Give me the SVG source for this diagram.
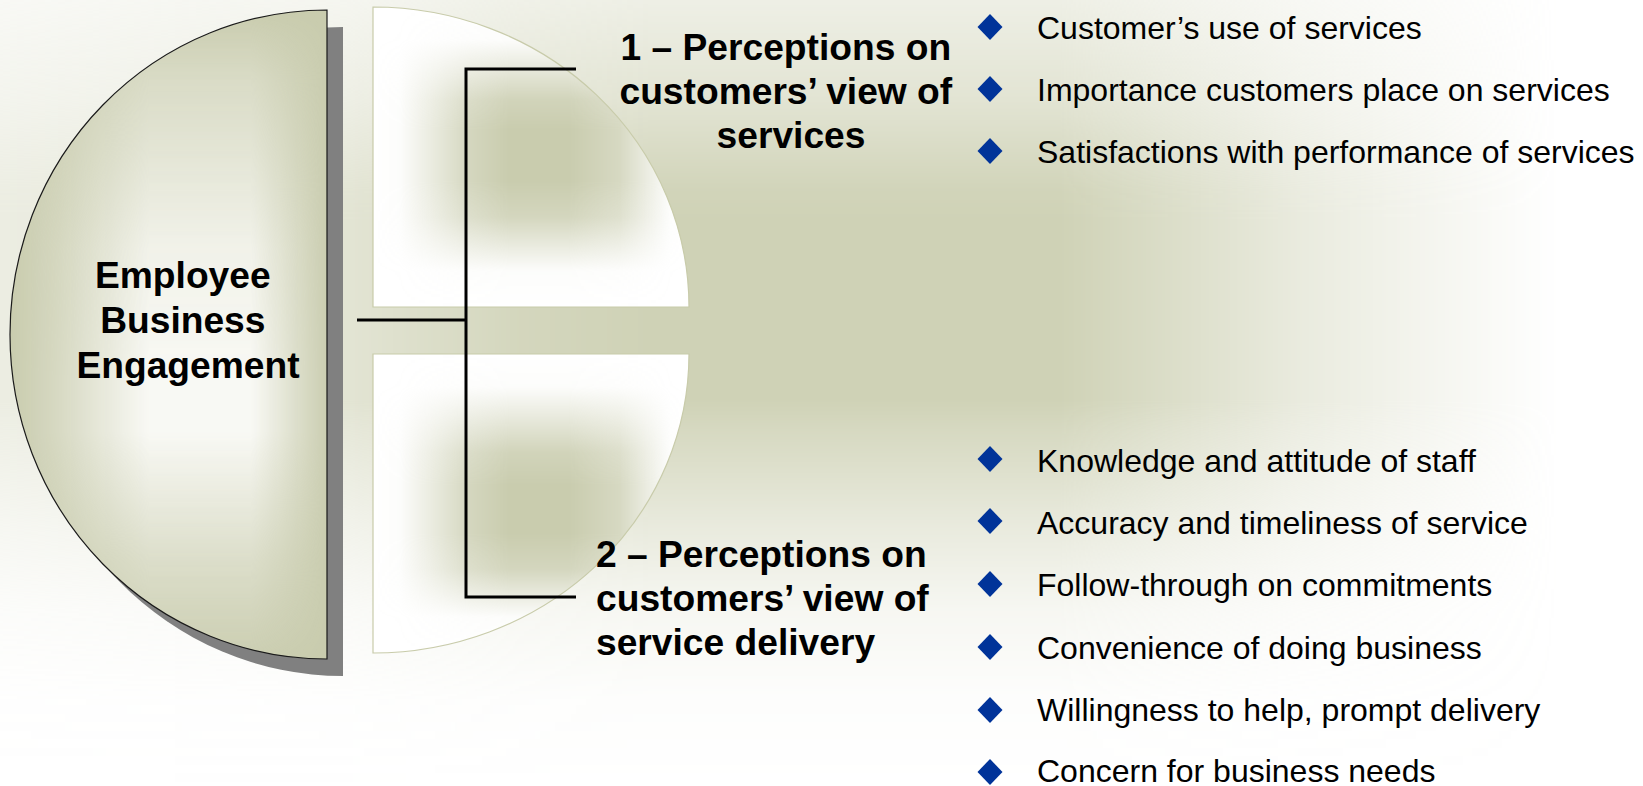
<svg xmlns="http://www.w3.org/2000/svg" width="1643" height="786" viewBox="0 0 1643 786">
  <style>
    .bold { font-family: "Liberation Sans", Arial, sans-serif; font-weight: bold; font-size: 37.2px; fill: #000; }
    .item { font-family: "Liberation Sans", Arial, sans-serif; font-size: 32px; fill: #000; }
    .bullet { fill: #003399; }
    .conn { fill: none; stroke: #000; stroke-width: 3; }
    .quarter { fill: #fff; }
    .qline { fill: none; stroke: #C8CBAA; stroke-width: 1.2; }
    mask { mask-type: alpha; }
  </style>
  <defs>
    <!-- background ramps -->
    <linearGradient id="bgH" gradientUnits="userSpaceOnUse" x1="0" y1="0" x2="1643" y2="0">
      <stop offset="0" stop-color="#fff" stop-opacity="0.4"/>
      <stop offset="0.213" stop-color="#fff" stop-opacity="0.6"/>
      <stop offset="0.316" stop-color="#fff" stop-opacity="0.9"/>
      <stop offset="0.396" stop-color="#fff" stop-opacity="1"/>
      <stop offset="0.645" stop-color="#fff" stop-opacity="1"/>
      <stop offset="0.791" stop-color="#fff" stop-opacity="0.45"/>
      <stop offset="0.949" stop-color="#fff" stop-opacity="0"/>
      <stop offset="1" stop-color="#fff" stop-opacity="0"/>
    </linearGradient>
    <linearGradient id="bgV" gradientUnits="userSpaceOnUse" x1="0" y1="0" x2="0" y2="786">
      <stop offset="0" stop-color="#fff" stop-opacity="0.35"/>
      <stop offset="0.127" stop-color="#fff" stop-opacity="0.6"/>
      <stop offset="0.242" stop-color="#fff" stop-opacity="0.95"/>
      <stop offset="0.28" stop-color="#fff" stop-opacity="1"/>
      <stop offset="0.509" stop-color="#fff" stop-opacity="1"/>
      <stop offset="0.547" stop-color="#fff" stop-opacity="0.85"/>
      <stop offset="0.674" stop-color="#fff" stop-opacity="0.45"/>
      <stop offset="0.776" stop-color="#fff" stop-opacity="0.18"/>
      <stop offset="0.89" stop-color="#fff" stop-opacity="0.04"/>
      <stop offset="1" stop-color="#fff" stop-opacity="0"/>
    </linearGradient>
    <mask id="mBgH" maskUnits="userSpaceOnUse" x="0" y="0" width="1643" height="786">
      <rect x="0" y="0" width="1643" height="786" fill="url(#bgH)"/>
    </mask>
    <mask id="mBgV" maskUnits="userSpaceOnUse" x="0" y="0" width="1643" height="786">
      <rect x="0" y="0" width="1643" height="786" fill="url(#bgV)"/>
    </mask>

    <!-- half circle highlight ramps -->
    <linearGradient id="hcH" gradientUnits="userSpaceOnUse" x1="10" y1="0" x2="327" y2="0">
      <stop offset="0" stop-color="#fff" stop-opacity="0"/>
      <stop offset="0.16" stop-color="#fff" stop-opacity="0.3"/>
      <stop offset="0.44" stop-color="#fff" stop-opacity="0.95"/>
      <stop offset="0.76" stop-color="#fff" stop-opacity="0.95"/>
      <stop offset="0.915" stop-color="#fff" stop-opacity="0.35"/>
      <stop offset="1" stop-color="#fff" stop-opacity="0.05"/>
    </linearGradient>
    <linearGradient id="hcV" gradientUnits="userSpaceOnUse" x1="0" y1="10" x2="0" y2="659">
      <stop offset="0" stop-color="#fff" stop-opacity="0"/>
      <stop offset="0.108" stop-color="#fff" stop-opacity="0.35"/>
      <stop offset="0.37" stop-color="#fff" stop-opacity="0.85"/>
      <stop offset="0.57" stop-color="#fff" stop-opacity="1"/>
      <stop offset="0.65" stop-color="#fff" stop-opacity="1"/>
      <stop offset="0.85" stop-color="#fff" stop-opacity="0.4"/>
      <stop offset="1" stop-color="#fff" stop-opacity="0.05"/>
    </linearGradient>
    <mask id="mHcH" maskUnits="userSpaceOnUse" x="0" y="0" width="340" height="670">
      <rect x="0" y="0" width="340" height="670" fill="url(#hcH)"/>
    </mask>
    <mask id="mHcV" maskUnits="userSpaceOnUse" x="0" y="0" width="340" height="670">
      <rect x="0" y="0" width="340" height="670" fill="url(#hcV)"/>
    </mask>

    <!-- quarter ramps -->
    <linearGradient id="qH" gradientUnits="userSpaceOnUse" x1="373" y1="0" x2="689" y2="0">
      <stop offset="0" stop-color="#fff" stop-opacity="0"/>
      <stop offset="0.085" stop-color="#fff" stop-opacity="0.05"/>
      <stop offset="0.31" stop-color="#fff" stop-opacity="0.8"/>
      <stop offset="0.43" stop-color="#fff" stop-opacity="1"/>
      <stop offset="0.62" stop-color="#fff" stop-opacity="1"/>
      <stop offset="0.78" stop-color="#fff" stop-opacity="0.75"/>
      <stop offset="0.94" stop-color="#fff" stop-opacity="0.05"/>
      <stop offset="1" stop-color="#fff" stop-opacity="0"/>
    </linearGradient>
    <linearGradient id="q1V" gradientUnits="userSpaceOnUse" x1="0" y1="7" x2="0" y2="307">
      <stop offset="0" stop-color="#fff" stop-opacity="0"/>
      <stop offset="0.11" stop-color="#fff" stop-opacity="0.05"/>
      <stop offset="0.31" stop-color="#fff" stop-opacity="0.85"/>
      <stop offset="0.41" stop-color="#fff" stop-opacity="1"/>
      <stop offset="0.58" stop-color="#fff" stop-opacity="1"/>
      <stop offset="0.7" stop-color="#fff" stop-opacity="0.8"/>
      <stop offset="0.88" stop-color="#fff" stop-opacity="0.05"/>
      <stop offset="1" stop-color="#fff" stop-opacity="0"/>
    </linearGradient>
    <linearGradient id="q2V" gradientUnits="userSpaceOnUse" x1="0" y1="354" x2="0" y2="653">
      <stop offset="0" stop-color="#fff" stop-opacity="0"/>
      <stop offset="0.11" stop-color="#fff" stop-opacity="0.05"/>
      <stop offset="0.33" stop-color="#fff" stop-opacity="0.85"/>
      <stop offset="0.44" stop-color="#fff" stop-opacity="1"/>
      <stop offset="0.6" stop-color="#fff" stop-opacity="1"/>
      <stop offset="0.72" stop-color="#fff" stop-opacity="0.8"/>
      <stop offset="0.88" stop-color="#fff" stop-opacity="0.05"/>
      <stop offset="1" stop-color="#fff" stop-opacity="0"/>
    </linearGradient>
    <mask id="mQH" maskUnits="userSpaceOnUse" x="360" y="0" width="340" height="670">
      <rect x="360" y="0" width="340" height="670" fill="url(#qH)"/>
    </mask>
    <mask id="mQ1V" maskUnits="userSpaceOnUse" x="360" y="0" width="340" height="320">
      <rect x="360" y="0" width="340" height="320" fill="url(#q1V)"/>
    </mask>
    <mask id="mQ2V" maskUnits="userSpaceOnUse" x="360" y="340" width="340" height="330">
      <rect x="360" y="340" width="340" height="330" fill="url(#q2V)"/>
    </mask>

    <path id="halfShape" d="M327,10 A317,324.5 0 0 0 327,659 Z"/>
    <path id="q1Shape" d="M373,7 A316,300 0 0 1 689,307 L373,307 Z"/>
    <path id="q2Shape" d="M373,354 L689,354 A316,299 0 0 1 373,653 Z"/>
    <clipPath id="clipHalf"><use href="#halfShape"/></clipPath>
    <clipPath id="clipQ1"><use href="#q1Shape"/></clipPath>
    <clipPath id="clipQ2"><use href="#q2Shape"/></clipPath>
    <polygon id="diamond" points="0,-13 12.5,0 0,13 -12.5,0"/>
  </defs>

  <!-- background -->
  <g id="background">
    <rect x="0" y="0" width="1643" height="786" fill="#fff"/>
    <g mask="url(#mBgV)">
      <rect x="0" y="0" width="1643" height="786" fill="#CFD2B6" mask="url(#mBgH)"/>
    </g>
  </g>

  <!-- central node: half circle -->
  <g id="node-employee">
    <use href="#halfShape" transform="translate(16,17)" fill="#808080"/>
    <use href="#halfShape" fill="#C9CCAE"/>
    <g clip-path="url(#clipHalf)">
      <g mask="url(#mHcV)">
        <rect x="0" y="0" width="340" height="670" fill="#FBFBF8" mask="url(#mHcH)"/>
      </g>
    </g>
    <use href="#halfShape" fill="none" stroke="#1a1a1a" stroke-width="1.2"/>
    <text class="bold" text-anchor="middle">
      <tspan x="188" y="288">Employee</tspan>
      <tspan x="188" y="333">Business</tspan>
      <tspan x="188" y="378">Engagement</tspan>
    </text>
  </g>

  <!-- quarter 1 -->
  <g id="node-q1">
    <use href="#q1Shape" class="quarter"/>
    <g clip-path="url(#clipQ1)">
      <g mask="url(#mQ1V)">
        <rect x="360" y="0" width="340" height="320" fill="#C9CCAE" mask="url(#mQH)"/>
      </g>
    </g>
    <use href="#q1Shape" class="qline"/>
  </g>

  <!-- quarter 2 -->
  <g id="node-q2">
    <use href="#q2Shape" class="quarter"/>
    <g clip-path="url(#clipQ2)">
      <g mask="url(#mQ2V)">
        <rect x="360" y="340" width="340" height="330" fill="#C9CCAE" mask="url(#mQH)"/>
      </g>
    </g>
    <use href="#q2Shape" class="qline"/>
  </g>

  <!-- connectors -->
  <g id="connectors">
    <path class="conn" d="M357,320 H466"/>
    <path class="conn" d="M576,69 H466 V597 H576"/>
  </g>

  <!-- labels -->
  <g id="label-1">
    <text class="bold" text-anchor="middle">
      <tspan x="791" y="60">1 – Perceptions on</tspan>
      <tspan x="791" y="104">customers’ view of</tspan>
      <tspan x="791" y="148">services</tspan>
    </text>
  </g>
  <g id="label-2">
    <text class="bold">
      <tspan x="596" y="567">2 – Perceptions on</tspan>
      <tspan x="596" y="611">customers’ view of</tspan>
      <tspan x="596" y="655">service delivery</tspan>
    </text>
  </g>

  <!-- bullet list 1 -->
  <g id="list-1">
    <use href="#diamond" class="bullet" x="990" y="27"/>
    <text class="item" x="1037" y="39">Customer’s use of services</text>
    <use href="#diamond" class="bullet" x="990" y="89"/>
    <text class="item" x="1037" y="101">Importance customers place on services</text>
    <use href="#diamond" class="bullet" x="990" y="151"/>
    <text class="item" x="1037" y="163">Satisfactions with performance of services</text>
  </g>

  <!-- bullet list 2 -->
  <g id="list-2">
    <use href="#diamond" class="bullet" x="990" y="459"/>
    <text class="item" x="1037" y="472">Knowledge and attitude of staff</text>
    <use href="#diamond" class="bullet" x="990" y="521"/>
    <text class="item" x="1037" y="534">Accuracy and timeliness of service</text>
    <use href="#diamond" class="bullet" x="990" y="584"/>
    <text class="item" x="1037" y="596">Follow-through on commitments</text>
    <use href="#diamond" class="bullet" x="990" y="647"/>
    <text class="item" x="1037" y="659">Convenience of doing business</text>
    <use href="#diamond" class="bullet" x="990" y="710"/>
    <text class="item" x="1037" y="721">Willingness to help, prompt delivery</text>
    <use href="#diamond" class="bullet" x="990" y="772"/>
    <text class="item" x="1037" y="782">Concern for business needs</text>
  </g>
</svg>
